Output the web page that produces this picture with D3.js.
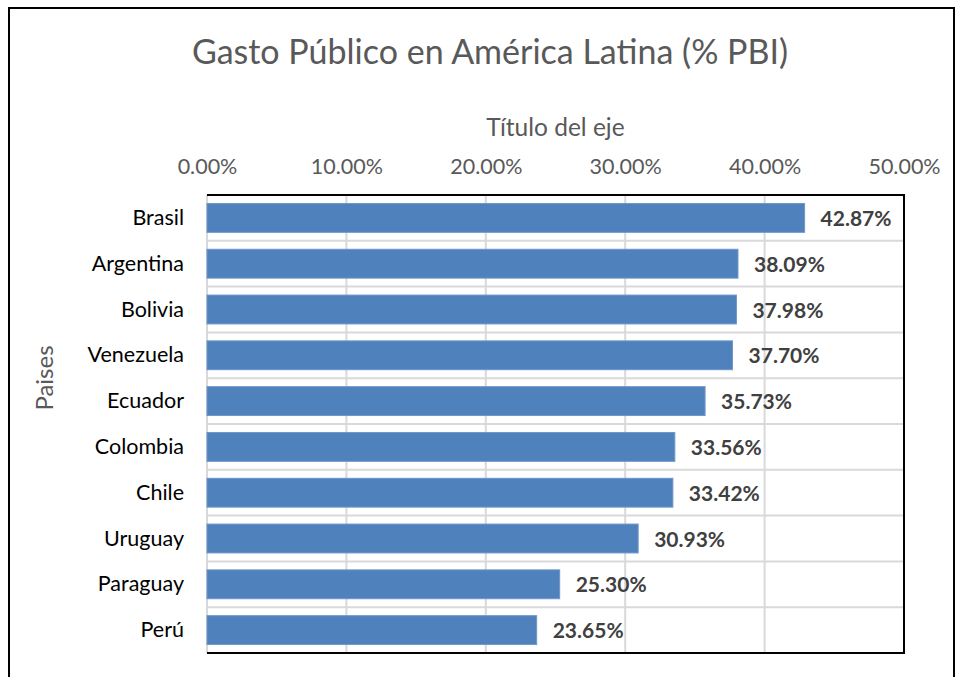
<!DOCTYPE html>
<html>
<head>
<meta charset="utf-8">
<script src="https://cdn.jsdelivr.net/npm/d3@7"></script>
<style>
  body { margin: 0; background: #fff; }
  svg { display: block; font-family: Lato, "Open Sans", sans-serif; }
</style>
</head>
<body>
<svg id="chart" width="962" height="677"></svg>
<script>
const paises = ["Brasil", "Argentina", "Bolivia", "Venezuela", "Ecuador", "Colombia", "Chile", "Uruguay", "Paraguay", "Perú"];
const gasto = [42.87, 38.09, 37.98, 37.70, 35.73, 33.56, 33.42, 30.93, 25.30, 23.65];
const ticks = [0, 10, 20, 30, 40, 50];

const MARGIN = { TOP: 195, LEFT: 207, RIGHT: 58, BOTTOM: 24 };
const WIDTH = 962, HEIGHT = 677;
const width = WIDTH - MARGIN.LEFT - MARGIN.RIGHT;
const height = HEIGHT - MARGIN.TOP - MARGIN.BOTTOM;

const svg = d3.select('#chart');

// outer chart border
svg.append('rect')
  .attr('x', 9).attr('y', 8)
  .attr('width', 945).attr('height', 690)
  .attr('fill', 'none')
  .attr('stroke', '#000')
  .attr('stroke-width', 2);

svg.append('text')
  .attr('x', 490).attr('y', 64)
  .attr('text-anchor', 'middle')
  .attr('font-size', 34)
  .attr('fill', '#595959')
  .text('Gasto Público en América Latina (% PBI)');

const g = svg.append('g')
  .attr('transform', `translate(${MARGIN.LEFT}, ${MARGIN.TOP})`);

const x = d3.scaleLinear().domain([0, 50]).range([0, width]);
const y = d3.scaleBand().domain(paises).range([0, height]).paddingInner(0.37).paddingOuter(0.185);

// horizontal gridlines at category boundaries
const step = height / paises.length;
g.selectAll('.hgrid')
  .data(d3.range(1, paises.length))
  .enter()
  .append('line')
  .attr('x1', 0).attr('x2', width)
  .attr('y1', i => i * step).attr('y2', i => i * step)
  .attr('stroke', '#d9d9d9').attr('stroke-width', 2);

// vertical gridlines
g.selectAll('.vgrid')
  .data(ticks)
  .enter()
  .append('line')
  .attr('x1', x).attr('x2', x)
  .attr('y1', 0).attr('y2', height)
  .attr('stroke', '#d9d9d9').attr('stroke-width', 2);

// top axis labels
const axis = g.append('g')
  .call(d3.axisTop(x).tickValues(ticks).tickSize(0).tickPadding(21)
    .tickFormat(d => d.toFixed(2) + '%'));
axis.select('.domain').remove();
axis.selectAll('text')
  .attr('font-family', 'Lato, "Open Sans", sans-serif')
  .attr('font-size', 21.5)
  .attr('fill', '#595959');

g.append('text')
  .attr('x', width / 2).attr('y', -59)
  .attr('text-anchor', 'middle')
  .attr('font-size', 24.5)
  .attr('fill', '#595959')
  .text('Título del eje');

// bars
g.selectAll('.bar')
  .data(paises)
  .enter()
  .append('rect')
  .attr('x', 0)
  .attr('y', d => y(d))
  .attr('width', (d, i) => x(gasto[i]))
  .attr('height', y.bandwidth())
  .attr('fill', '#4f81bd')
  .attr('stroke', '#6f97c9')
  .attr('stroke-width', 1);

// value labels
g.selectAll('.val')
  .data(paises)
  .enter()
  .append('text')
  .attr('x', (d, i) => x(gasto[i]) + 16)
  .attr('y', d => y(d) + y.bandwidth() / 2 + 8)
  .attr('font-size', 21)
  .attr('font-weight', 'bold')
  .attr('fill', '#404040')
  .text((d, i) => gasto[i].toFixed(2) + '%');

// category labels
g.selectAll('.cat')
  .data(paises)
  .enter()
  .append('text')
  .attr('x', -23)
  .attr('y', d => y(d) + y.bandwidth() / 2 + 7)
  .attr('text-anchor', 'end')
  .attr('font-size', 21.5)
  .attr('fill', '#000')
  .text(d => d);

// plot box: top, right, bottom black; left stays grid gray
g.append('path')
  .attr('d', `M0,0H${width}V${height}H0`)
  .attr('fill', 'none')
  .attr('stroke', '#000')
  .attr('stroke-width', 2);

svg.append('text')
  .attr('transform', 'translate(53, 378) rotate(-90)')
  .attr('text-anchor', 'middle')
  .attr('font-size', 24)
  .attr('fill', '#595959')
  .text('Paises');
</script>
</body>
</html>
